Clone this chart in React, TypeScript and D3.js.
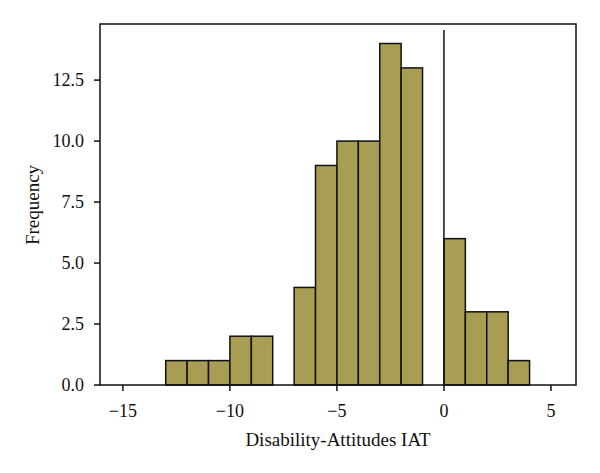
import * as d3 from "d3";
import React from "react";

// histogram bins (left edge) and counts, bin width 1
const binStarts = [-13, -12, -11, -10, -9, -8, -7, -6, -5, -4, -3, -2, -1, 0, 1, 2, 3];
const counts = [1, 1, 1, 2, 2, 0, 4, 9, 10, 10, 14, 13, 0, 6, 3, 3, 1];
const xTicks = [-15, -10, -5, 0, 5];
const yTicks = [0, 2.5, 5, 7.5, 10, 12.5];

const App: React.FC = () => {
  const width = 600,
    height = 473;
  const margin = { top: 24, right: 24, bottom: 88, left: 100 };

  const x = d3
    .scaleLinear()
    .domain([-16.07, 6.17])
    .range([margin.left, width - margin.right]);
  const y = d3
    .scaleLinear()
    .domain([0, 14.8])
    .range([height - margin.bottom, margin.top]);

  const fmtY = d3.format(".1f");
  const fmtX = (d: number) => (d < 0 ? "\u2212" + Math.abs(d) : String(d));
  const font = "'Liberation Serif', 'DejaVu Serif', serif";

  return (
    <svg width={width} height={height} style={{ position: "absolute", left: 0, top: 0 }}>
      <rect x={0} y={0} width={width} height={height} fill="#fff" />
      {binStarts.map((b, i) =>
        counts[i] > 0 ? (
          <rect
            key={i}
            x={x(b)}
            y={y(counts[i])}
            width={x(b + 1) - x(b)}
            height={y(0) - y(counts[i])}
            fill="#a89d52"
            stroke="#111"
            strokeWidth={1.5}
          />
        ) : null
      )}
      {/* vertical reference line at 0 */}
      <line x1={x(0)} x2={x(0)} y1={30} y2={y(0)} stroke="#111" strokeWidth={1.5} />
      {/* frame */}
      <rect
        x={margin.left}
        y={margin.top}
        width={width - margin.left - margin.right}
        height={height - margin.top - margin.bottom}
        fill="none"
        stroke="#111"
        strokeWidth={1.5}
      />
      {xTicks.map((t) => (
        <g key={t} transform={`translate(${x(t)},${y(0)})`}>
          <line y1={0} y2={6} stroke="#111" strokeWidth={1.5} />
          <text y={32} textAnchor="middle" fontFamily={font} fontSize={18} fill="#111">
            {fmtX(t)}
          </text>
        </g>
      ))}
      {yTicks.map((t) => (
        <g key={t} transform={`translate(${margin.left},${y(t)})`}>
          <line x1={0} x2={-6} stroke="#111" strokeWidth={1.5} />
          <text x={-16} dy="0.35em" textAnchor="end" fontFamily={font} fontSize={18} fill="#111">
            {fmtY(t)}
          </text>
        </g>
      ))}
      <text
        x={(margin.left + width - margin.right) / 2}
        y={446}
        textAnchor="middle"
        fontFamily={font}
        fontSize={19}
        fill="#111"
      >
        Disability-Attitudes IAT
      </text>
      <text
        transform={`translate(39,205) rotate(-90)`}
        textAnchor="middle"
        fontFamily={font}
        fontSize={19}
        fill="#111"
      >
        Frequency
      </text>
    </svg>
  );
};

export default App;
